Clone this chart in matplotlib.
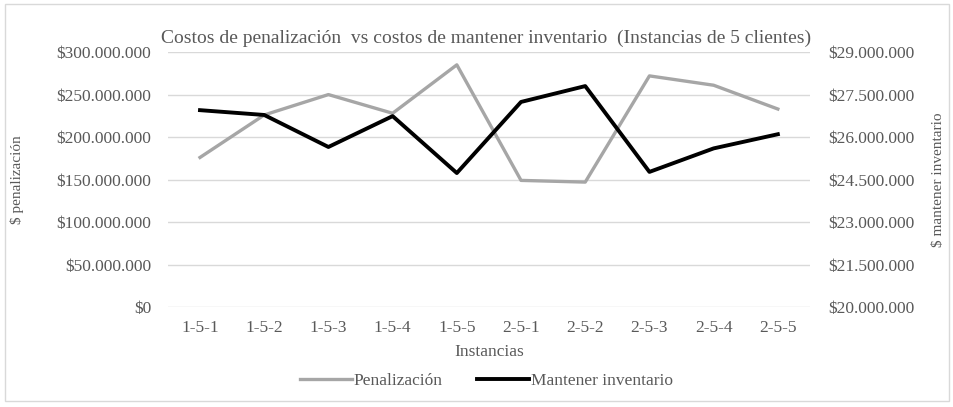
import matplotlib.pyplot as plt
from matplotlib.patches import Rectangle
from matplotlib.lines import Line2D

plt.rcParams['font.family'] = ['Liberation Serif', 'DejaVu Serif']

instancias = ["1-5-1", "1-5-2", "1-5-3", "1-5-4", "1-5-5",
              "2-5-1", "2-5-2", "2-5-3", "2-5-4", "2-5-5"]
penalizacion = [176e6, 226e6, 250e6, 228e6, 285e6,
                149e6, 147e6, 272e6, 261e6, 233e6]
mantener = [26.95e6, 26.78e6, 25.65e6, 26.74e6, 24.73e6,
            27.24e6, 27.80e6, 24.77e6, 25.60e6, 26.10e6]

txt = "#595959"
grid = "#d9d9d9"


def pesos(v, _=None):
    return "$" + f"{v:,.0f}".replace(",", ".")


fig = plt.figure(figsize=(9.54, 4.07), dpi=100)
fig.patches.append(Rectangle((0.005, 0.015), 0.99, 0.975, transform=fig.transFigure,
                             fill=False, edgecolor="#d9d9d9", linewidth=1))

ax = fig.add_axes([0.176, 0.2457, 0.673, 0.6263])
x = range(len(instancias))
ax.plot(x, penalizacion, color="#a6a6a6", linewidth=2.4, zorder=3)
ax.set_ylim(0, 300e6)
ax.set_yticks([0, 50e6, 100e6, 150e6, 200e6, 250e6, 300e6])
ax.yaxis.set_major_formatter(pesos)
ax.set_xlim(-0.5, len(instancias) - 0.5)
ax.set_xticks(list(x))
ax.set_xticklabels(instancias)
ax.grid(axis="y", color=grid, linewidth=1)
ax.set_axisbelow(True)
for s in ax.spines.values():
    s.set_visible(False)
ax.tick_params(length=0, colors=txt, labelsize=12.5, pad=12)
ax.tick_params(axis="x", pad=9)
ax.set_ylabel("$ penalización", color=txt, fontsize=11)
ax.yaxis.set_label_coords(-0.224, 0.5)
ax.set_xlabel("Instancias", color=txt, fontsize=12.5, labelpad=6)

ax2 = ax.twinx()
ax2.plot(x, mantener, color="black", linewidth=2.8, zorder=4)
ax2.set_ylim(20e6, 29e6)
ax2.set_yticks([20e6 + 1.5e6 * i for i in range(7)])
ax2.yaxis.set_major_formatter(pesos)
for s in ax2.spines.values():
    s.set_visible(False)
ax2.tick_params(length=0, colors=txt, labelsize=12.5, pad=13)
ax2.set_ylabel("$ mantener inventario", color=txt, fontsize=11, rotation=90)
ax2.yaxis.set_label_coords(1.19, 0.5)

fig.text(0.51, 0.905, "Costos de penalización  vs costos de mantener inventario  (Instancias de 5 clientes)",
         ha="center", va="center", color=txt, fontsize=14)

handles = [Line2D([], [], color="#a6a6a6", linewidth=2.4),
           Line2D([], [], color="black", linewidth=2.8)]
fig.legend(handles, ["Penalización", "Mantener inventario"], loc="center",
           bbox_to_anchor=(0.51, 0.065), ncol=2, frameon=False, fontsize=12.5,
           labelcolor=txt, handlelength=3.0, handletextpad=0.1, columnspacing=2.0)

fig.savefig("out.png", dpi=100)
